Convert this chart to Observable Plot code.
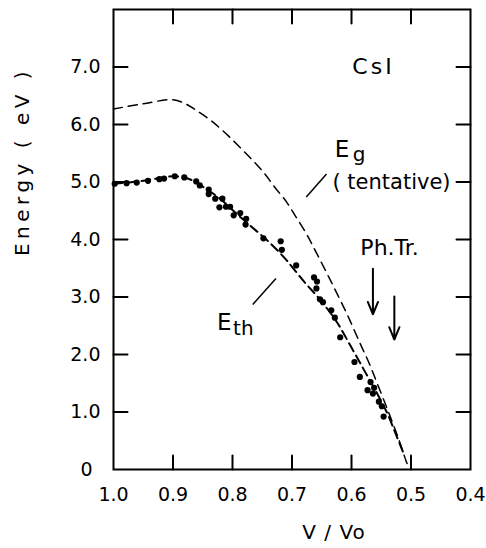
<!DOCTYPE html>
<html><head><meta charset="utf-8">
<script src="https://cdn.jsdelivr.net/npm/d3@7"></script>
<script src="https://cdn.jsdelivr.net/npm/@observablehq/plot@0.6"></script>
<style>
html,body{margin:0;padding:0;background:#fff;}
#chart svg{display:block;}
</style></head><body><div id="chart"></div>
<script>
// axis ticks
const xTickLabels = [1.0, 0.9, 0.8, 0.7, 0.6, 0.5, 0.4];
const xTickMarks = [0.9, 0.8, 0.7, 0.6, 0.5];
const yTickLabels = [1, 2, 3, 4, 5, 6, 7];

// measured threshold energies (dots)
const dotX = [0.998,0.978,0.961,0.942,0.923,0.915,0.897,0.881,0.861,0.855,0.840,0.840,0.829,0.817,0.822,0.811,0.804,0.798,0.787,0.777,0.778,0.748,0.719,0.717,0.693,0.663,0.658,0.659,0.653,0.648,0.634,0.628,0.619,0.595,0.586,0.568,0.562,0.573,0.564,0.554,0.549,0.546];
const dotY = [4.97,4.98,4.99,5.02,5.05,5.06,5.10,5.08,5.01,4.94,4.87,4.79,4.71,4.71,4.56,4.57,4.57,4.42,4.46,4.36,4.26,4.02,3.97,3.82,3.55,3.34,3.27,3.15,2.96,2.91,2.77,2.64,2.30,1.87,1.61,1.52,1.42,1.38,1.32,1.18,1.10,0.92];

// E_th curve
const ethX = [1.0,0.95,0.9,0.875,0.85,0.82,0.79,0.76,0.735,0.71,0.68,0.655,0.625,0.60,0.58,0.56,0.54,0.525,0.512];
const ethY = [4.97,5.02,5.10,5.06,4.92,4.70,4.42,4.15,3.92,3.65,3.27,2.98,2.57,2.12,1.75,1.38,0.98,0.60,0.27];

// E_g (tentative) curve
const egX = [1.0,0.95,0.9,0.877,0.863,0.839,0.816,0.793,0.771,0.748,0.729,0.709,0.695,0.677,0.660,0.633,0.607,0.585,0.570,0.555,0.536,0.519,0.508,0.504];
const egY = [6.27,6.36,6.43,6.35,6.26,6.09,5.89,5.66,5.43,5.17,4.91,4.65,4.42,4.12,3.79,3.24,2.69,2.18,1.84,1.45,0.95,0.48,0.14,0.04];

// phase-transition arrows
const arrowX = [0.564, 0.528];
const arrowTop = [3.49, 3.01];
const arrowBottom = [2.70, 2.26];

// leader lines
const leaderX1 = [0.676, 0.766];
const leaderY1 = [4.74, 2.87];
const leaderX2 = [0.642, 0.727];
const leaderY2 = [5.14, 3.32];

// annotation labels
const labelText = ["CsI", "Ph.Tr."];
const labelX = [0.563, 0.536];
const labelY = [7.0, 3.85];
const noteText = ["( tentative)"];
const noteX = [0.632];
const noteY = [4.99];
const mainLetterX = [0.628, 0.826];
const mainLetterY = [5.57, 2.55];
const subText = ["g", "th"];
const subX = [0.598, 0.799];
const subY = [5.47, 2.45];

const dots = dotX.map((x, i) => ({x, y: dotY[i]}));
const eth = ethX.map((x, i) => ({x, y: ethY[i]}));
const eg = egX.map((x, i) => ({x, y: egY[i]}));
const arrows = arrowX.map((x, i) => ({x, y1: arrowTop[i], y2: arrowBottom[i]}));
const leaders = leaderX1.map((x1, i) => ({x1, y1: leaderY1[i], x2: leaderX2[i], y2: leaderY2[i]}));
const labels = labelText.map((t, i) => ({t, x: labelX[i], y: labelY[i]}));
const notes = noteText.map((t, i) => ({t, x: noteX[i], y: noteY[i]}));
const mains = mainLetterX.map((x, i) => ({t: "E", x, y: mainLetterY[i]}));
const subs = subText.map((t, i) => ({t, x: subX[i], y: subY[i]}));

const tickShape = {draw(ctx, l) { ctx.moveTo(0, 0); ctx.lineTo(0, -l); }};
const tickOpts = {length: 14, anchor: "start", shape: tickShape, strokeWidth: 2};

const chart = Plot.plot({
  width: 486, height: 548,
  marginLeft: 113, marginRight: 16, marginTop: 9, marginBottom: 79,
  x: {domain: [1.0, 0.4]},
  y: {domain: [0, 8]},
  style: {fontFamily: "DejaVu Sans", fontSize: "19px", color: "black", background: "white"},
  marks: [
    Plot.frame({strokeWidth: 2}),
    Plot.vector(xTickMarks, {x: d => d, frameAnchor: "bottom", rotate: 0, ...tickOpts}),
    Plot.vector(xTickMarks, {x: d => d, frameAnchor: "top", rotate: 180, ...tickOpts}),
    Plot.vector(yTickLabels, {y: d => d, frameAnchor: "left", rotate: 90, ...tickOpts}),
    Plot.vector(yTickLabels, {y: d => d, frameAnchor: "right", rotate: -90, ...tickOpts}),
    Plot.axisX(xTickLabels, {tickSize: 0, tickPadding: 18, tickFormat: d => d.toFixed(1), label: null, fontSize: 19}),
    Plot.axisY(yTickLabels, {tickSize: 0, tickPadding: 13, tickFormat: d => d.toFixed(1), label: null, fontSize: 19}),
    Plot.text([0], {y: d => d, frameAnchor: "left", text: d => String(d), dx: -27, textAnchor: "middle", fontSize: 19}),
    Plot.text(["V / Vo"], {frameAnchor: "bottom", textAnchor: "middle", dx: 42, dy: 69, fontSize: 20}),
    Plot.text(["Energy ( eV )"], {frameAnchor: "left", textAnchor: "middle", rotate: -90, dx: -91, dy: -78, fontSize: 20}),
    Plot.line(eg, {x: "x", y: "y", curve: "catmull-rom", stroke: "black", strokeWidth: 1.5, strokeDasharray: "9,6"}),
    Plot.line(eth, {x: "x", y: "y", curve: "catmull-rom", stroke: "black", strokeWidth: 2, strokeDasharray: "9,5"}),
    Plot.dot(dots, {x: "x", y: "y", r: 3.1, fill: "black", stroke: null}),
    Plot.arrow(arrows, {x1: "x", x2: "x", y1: "y1", y2: "y2", stroke: "black", strokeWidth: 2, headLength: 10, headAngle: 45}),
    Plot.link(leaders, {x1: "x1", y1: "y1", x2: "x2", y2: "y2", stroke: "black", strokeWidth: 1.5}),
    Plot.text(labels, {x: "x", y: "y", text: "t", fontSize: 22, textAnchor: "middle"}),
    Plot.text(notes, {x: "x", y: "y", text: "t", fontSize: 21, textAnchor: "start"}),
    Plot.text(mains, {x: "x", y: "y", text: "t", fontSize: 23, textAnchor: "start"}),
    Plot.text(subs, {x: "x", y: "y", text: "t", fontSize: 20, textAnchor: "start"})
  ]
});
document.getElementById("chart").appendChild(chart);
d3.select(chart).selectAll("text").each(function() {
  const t = this.textContent;
  if (t === "Energy ( eV )") this.setAttribute("letter-spacing", "4.5");
  if (t === "CsI") this.setAttribute("letter-spacing", "3");
  if (t === "V / Vo") this.setAttribute("letter-spacing", "1");
});
</script></body></html>
